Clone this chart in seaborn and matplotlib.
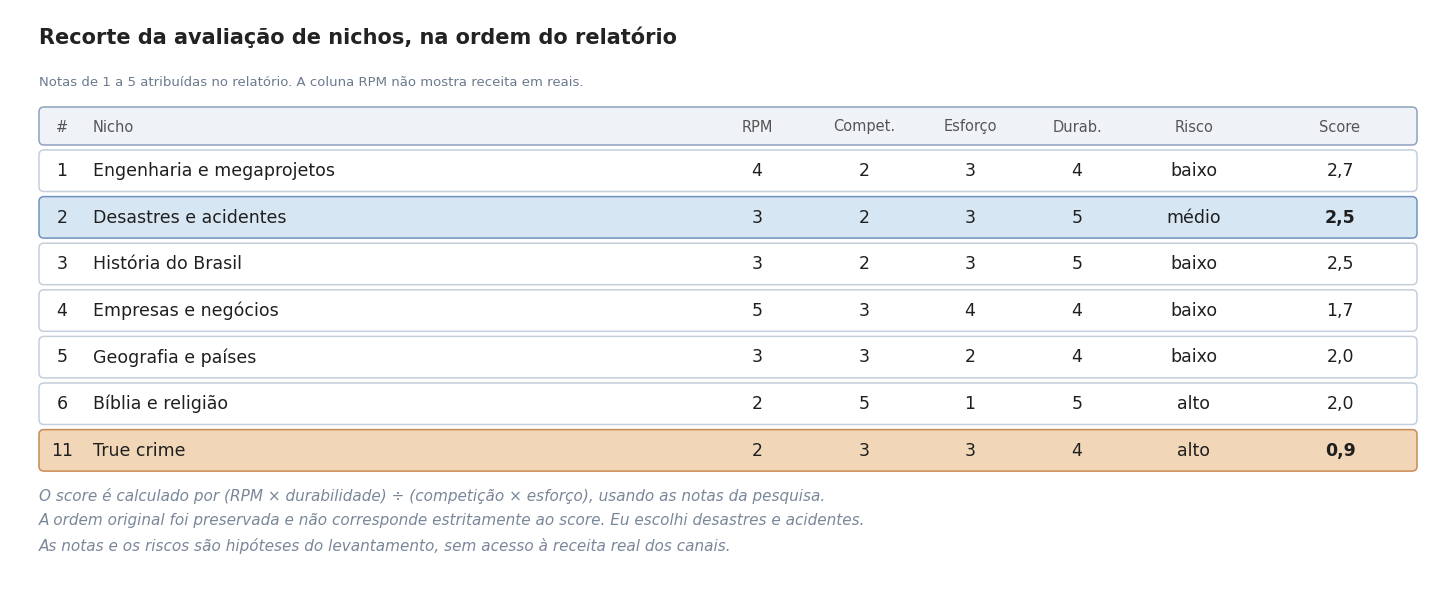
import matplotlib.pyplot as plt
import seaborn as sns
from matplotlib.patches import FancyBboxPatch

sns.set_theme(style="white")
plt.rcParams['font.family'] = ['DejaVu Sans']

title = "Recorte da avaliação de nichos, na ordem do relatório"
subtitle = "Notas de 1 a 5 atribuídas no relatório. A coluna RPM não mostra receita em reais."
headers = ["#", "Nicho", "RPM", "Compet.", "Esforço", "Durab.", "Risco", "Score"]
ids = ["1", "2", "3", "4", "5", "6", "11"]
nichos = ["Engenharia e megaprojetos", "Desastres e acidentes", "História do Brasil",
          "Empresas e negócios", "Geografia e países", "Bíblia e religião", "True crime"]
rpm = [4, 3, 3, 5, 3, 2, 2]
compet = [2, 2, 2, 3, 3, 5, 3]
esforco = [3, 3, 3, 4, 2, 1, 3]
durab = [4, 5, 5, 4, 4, 5, 4]
risco = ["baixo", "médio", "baixo", "baixo", "baixo", "alto", "alto"]
score = ["2,7", "2,5", "2,5", "1,7", "2,0", "2,0", "0,9"]
row_style = ["normal", "chosen", "normal", "normal", "normal", "normal", "excluded"]
notes = [
    "O score é calculado por (RPM × durabilidade) ÷ (competição × esforço), usando as notas da pesquisa.",
    "A ordem original foi preservada e não corresponde estritamente ao score. Eu escolhi desastres e acidentes.",
    "As notas e os riscos são hipóteses do levantamento, sem acesso à receita real dos canais.",
]

styles = {
    "header": ("#eff3f8", "#8fa2bc"),
    "normal": ("#ffffff", "#c3cfdb"),
    "chosen": ("#d6e6f3", "#6d94bd"),
    "excluded": ("#f2d6b8", "#c98b52"),
}

W, H = 1456, 596
fig = plt.figure(figsize=(W / 100, H / 100), dpi=100)
ax = fig.add_axes([0, 0, 1, 1])
ax.set_xlim(0, W)
ax.set_ylim(H, 0)
ax.axis("off")

left, right = 39, 1417
col_x = [62, 93, 757, 864, 970, 1077, 1194, 1340]
col_ha = ["center", "left", "center", "center", "center", "center", "center", "center"]

ax.text(left, 37, title, fontsize=15, fontweight="bold", color="#222222", va="center")
ax.text(left, 82, subtitle, fontsize=9.5, color="#6b7a8d", va="center")


def box(y0, y1, kind):
    fc, ec = styles[kind]
    ax.add_patch(FancyBboxPatch((left, y0), right - left, y1 - y0,
                                boxstyle="round,pad=0,rounding_size=5",
                                fc=fc, ec=ec, lw=1.1))


box(107, 145, "header")
for x, ha, h in zip(col_x, col_ha, headers):
    ax.text(x, 127, h, fontsize=10.5, color="#555555", ha=ha, va="center")

pitch = 46.6
for i in range(len(nichos)):
    y0 = 150 + i * pitch
    box(y0, y0 + 41.5, row_style[i])
    yc = y0 + 21
    vals = [ids[i], nichos[i], rpm[i], compet[i], esforco[i], durab[i], risco[i], score[i]]
    for j, (x, ha, v) in enumerate(zip(col_x, col_ha, vals)):
        bold = j == 7 and row_style[i] != "normal"
        ax.text(x, yc, str(v), fontsize=12.5, color="#1f1f1f", ha=ha, va="center",
                fontweight="bold" if bold else "normal")

for k, n in enumerate(notes):
    ax.text(left, 496 + k * 25, n, fontsize=11, style="italic", color="#7a8799", va="center")

fig.savefig("out.png", dpi=100)
